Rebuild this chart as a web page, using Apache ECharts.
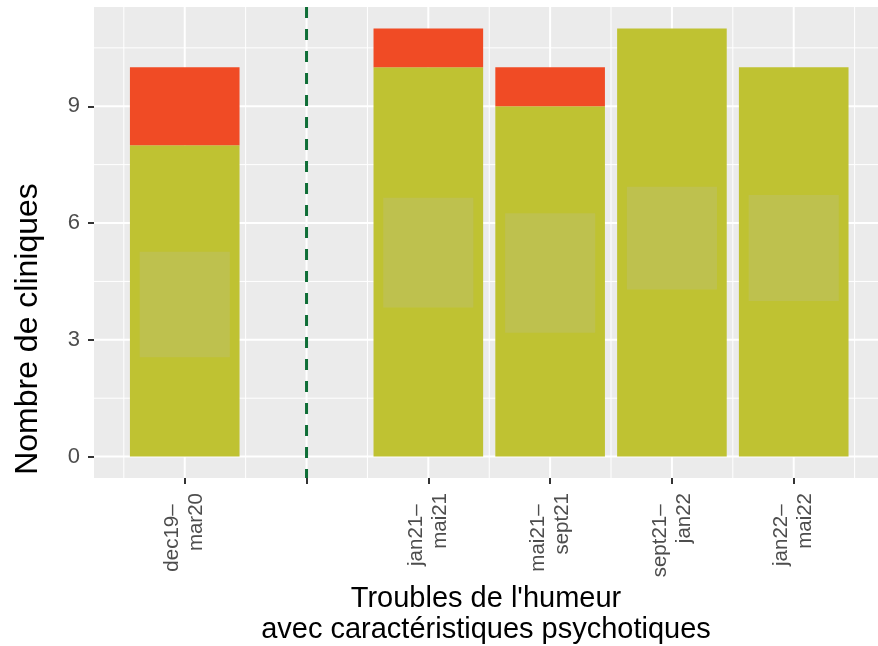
<!DOCTYPE html>
<html>
<head>
<meta charset="utf-8">
<script src="https://cdn.jsdelivr.net/npm/echarts@6/dist/echarts.min.js"></script>
<style>
  html, body { margin: 0; padding: 0; background: #fff; }
  #chart { width: 878px; height: 646px; }
</style>
</head>
<body>
<div id="chart"></div>
<script>
// categories (position 1 is the empty slot marked by the dashed line)
const categories = ['dec19–\nmar20', '', 'jan21–\nmai21', 'mai21–\nsept21', 'sept21–\njan22', 'jan22–\nmai22']
const positions = [0, 1, 2, 3, 4, 5]
const valuesGreen = [8, null, 10, 9, 11, 10]
const valuesRed = [2, null, 1, 1, 0, 0]
const boxLow = [2.55, null, 3.83, 3.18, 4.29, 4.0]
const boxHigh = [5.26, null, 6.65, 6.25, 6.93, 6.72]
const yTicks = [0, 3, 6, 9]
const yMinor = [1.5, 4.5, 7.5, 10.5]
const xMinor = [-0.5, 0.5, 1.5, 2.5, 3.5, 4.5, 5.5]
const separator = 1

const FONT = "'Liberation Sans', Arial, Helvetica, sans-serif"

// gridlines: [x, y, vertical?, major?]
const gridData = []
xMinor.forEach(v => gridData.push([v, 0, 1, 0]))
yMinor.forEach(v => gridData.push([0, v, 0, 0]))
positions.forEach(v => gridData.push([v, 0, 1, 1]))
yTicks.forEach(v => gridData.push([0, v, 0, 1]))

const greenData = []
const redData = []
const boxData = []
positions.forEach((p, i) => {
  if (valuesGreen[i] == null) return
  greenData.push([p, 0, valuesGreen[i]])
  if (valuesRed[i] > 0) redData.push([p, valuesGreen[i], valuesGreen[i] + valuesRed[i]])
  boxData.push([p, boxLow[i], boxHigh[i]])
})

function rectRenderer(halfWidth, color) {
  return function (params, api) {
    const p0 = api.coord([api.value(0) - halfWidth, api.value(2)])
    const p1 = api.coord([api.value(0) + halfWidth, api.value(1)])
    return {
      type: 'rect',
      shape: { x: p0[0], y: p0[1], width: p1[0] - p0[0], height: p1[1] - p0[1] },
      style: { fill: color }
    }
  }
}

// first line of each label sits a bit lower in the original
function formatCategory(v) {
  const label = categories[Math.round(v)] || ''
  if (!label) return ''
  const lines = label.split('\n')
  lines[0] = lines[0] + '  '
  return lines.join('\n')
}

const chart = echarts.init(document.getElementById('chart'))

const option = {
  animation: false,
  grid: {
    left: 94,
    right: 0,
    top: 7,
    bottom: 168,
    outerBoundsMode: 'none',
    show: true,
    backgroundColor: '#EBEBEB',
    borderWidth: 0
  },
  xAxis: {
    type: 'value',
    min: -0.745,
    max: 5.692,
    axisLine: { show: false, onZero: false },
    splitLine: { show: false },
    axisTick: {
      show: true,
      customValues: positions,
      length: 6,
      lineStyle: { color: '#333333', width: 2 }
    },
    axisLabel: {
      customValues: positions,
      formatter: formatCategory,
      rotate: 90,
      margin: 15,
      fontSize: 20.5,
      lineHeight: 24,
      color: '#4D4D4D',
      fontFamily: FONT
    },
    name: "Troubles de l'humeur\navec caractéristiques psychotiques",
    nameLocation: 'middle',
    nameGap: 105,
    nameMoveOverlap: false,
    nameTextStyle: {
      fontSize: 29,
      lineHeight: 31,
      color: '#000',
      fontFamily: FONT,
      verticalAlign: 'top'
    }
  },
  yAxis: {
    type: 'value',
    min: -0.55,
    max: 11.55,
    axisLine: { show: false, onZero: false },
    splitLine: { show: false },
    axisTick: {
      show: true,
      customValues: yTicks,
      length: 6,
      lineStyle: { color: '#333333', width: 2 }
    },
    axisLabel: {
      customValues: yTicks,
      margin: 14,
      fontSize: 22,
      color: '#4D4D4D',
      fontFamily: FONT
    }
  },
  graphic: [{
    type: 'text',
    x: 28,
    y: 329,
    rotation: Math.PI / 2,
    style: {
      text: 'Nombre de cliniques',
      font: '32px ' + FONT,
      fill: '#000',
      align: 'center',
      verticalAlign: 'middle'
    }
  }],
  series: [
    {
      name: 'grille',
      type: 'custom',
      silent: true,
      z: 1,
      data: gridData,
      renderItem: (params, api) => {
        const cs = params.coordSys
        const w = api.value(3) === 1 ? 2 : 1
        if (api.value(2) === 1) {
          const x = api.coord([api.value(0), 0])[0]
          return { type: 'line', shape: { x1: x, y1: cs.y, x2: x, y2: cs.y + cs.height }, style: { stroke: '#fff', lineWidth: w } }
        }
        const y = api.coord([0, api.value(1)])[1]
        return { type: 'line', shape: { x1: cs.x, y1: y, x2: cs.x + cs.width, y2: y }, style: { stroke: '#fff', lineWidth: w } }
      }
    },
    {
      name: 'vert',
      type: 'custom',
      z: 2,
      data: greenData,
      renderItem: rectRenderer(0.45, '#BFC232')
    },
    {
      name: 'rouge',
      type: 'custom',
      z: 2,
      data: redData,
      renderItem: rectRenderer(0.45, '#F04B25')
    },
    {
      name: 'intervalle',
      type: 'custom',
      z: 3,
      data: boxData,
      renderItem: rectRenderer(0.37, 'rgba(188, 188, 188, 0.2)')
    },
    {
      name: 'separation',
      type: 'custom',
      silent: true,
      z: 4,
      data: [[separator, 0]],
      renderItem: (params, api) => {
        const cs = params.coordSys
        const x = api.coord([api.value(0), 0])[0]
        return {
          type: 'line',
          shape: { x1: x, y1: cs.y, x2: x, y2: cs.y + cs.height },
          style: { stroke: '#0F6E37', lineWidth: 3, lineDash: [11, 11] }
        }
      }
    }
  ]
}

chart.setOption(option)
</script>
</body>
</html>
